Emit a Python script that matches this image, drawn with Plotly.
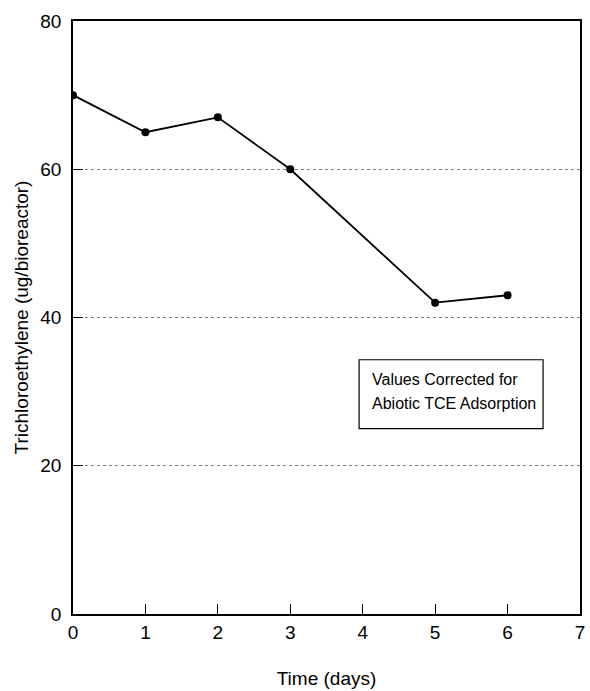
import plotly.graph_objects as go

days = [0, 1, 2, 3, 5, 6]
tce = [70, 65, 67, 60, 42, 43]
x_ticks = [0, 1, 2, 3, 4, 5, 6, 7]
y_ticks = [0, 20, 40, 60, 80]
note_lines = ["Values Corrected for", "Abiotic TCE Adsorption"]

FONT = "Liberation Sans, Arial, Helvetica, sans-serif"

fig = go.Figure()
fig.add_trace(go.Scatter(
    x=days, y=tce, mode="lines+markers",
    line=dict(color="black", width=1.8),
    marker=dict(color="black", size=8),
    showlegend=False, hoverinfo="skip",
))

fig.add_shape(type="rect", xref="x", yref="y", x0=3.95, x1=6.49, y0=25.0, y1=34.3,
              line=dict(color="black", width=1.2), fillcolor="white", layer="above")
fig.add_annotation(x=4.10, y=31.7, xref="x", yref="y", text=note_lines[0], showarrow=False,
                   xanchor="left", yanchor="middle", font=dict(size=16, color="black", family=FONT))
fig.add_annotation(x=4.10, y=28.4, xref="x", yref="y", text=note_lines[1], showarrow=False,
                   xanchor="left", yanchor="middle", font=dict(size=16, color="black", family=FONT))

fig.update_layout(
    width=590, height=691,
    margin=dict(l=73, r=5, t=21, b=75),
    paper_bgcolor="white", plot_bgcolor="white",
    font=dict(family=FONT, color="black"),
    xaxis=dict(
        range=[0, 7], tickvals=x_ticks, ticks="inside", ticklen=10, tickwidth=1.2,
        tickcolor="black", showline=True, linecolor="black", linewidth=1.6, mirror=True,
        showgrid=False, zeroline=False, tickfont=dict(size=19),
        title=dict(text="Time (days)", font=dict(size=19), standoff=30),
    ),
    yaxis=dict(
        range=[0, 80], tickvals=y_ticks, ticks="inside", ticklen=10, tickwidth=1.2,
        tickcolor="black", showline=True, linecolor="black", linewidth=1.6, mirror=True,
        showgrid=True, gridcolor="#808080", griddash="dot", gridwidth=1,
        zeroline=False, tickfont=dict(size=19), ticklabelstandoff=6,
        title=dict(text="Trichloroethylene (ug/bioreactor)", font=dict(size=19), standoff=7),
    ),
)

fig.write_html("out.html")
